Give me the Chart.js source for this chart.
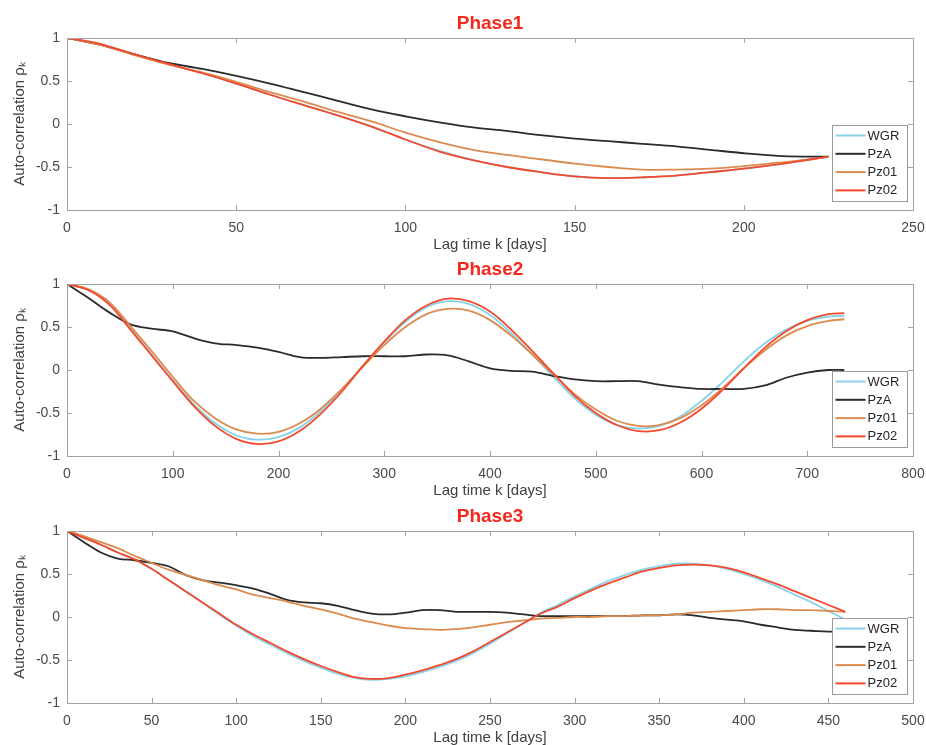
<!DOCTYPE html>
<html>
<head>
<meta charset="utf-8">
<script src="https://cdn.jsdelivr.net/npm/chart.js"></script>
<style>
  body { margin: 0; background: #fff; width: 926px; height: 745px; overflow: hidden; position: relative; }
  canvas { position: absolute; left: 0; }
</style>
</head>
<body>
<canvas id="phase1" width="926" height="256" style="top:0px"></canvas>
<canvas id="phase2" width="926" height="256" style="top:246px"></canvas>
<canvas id="phase3" width="926" height="256" style="top:493px"></canvas>
<script>
// series names and colours
const seriesNames = ['WGR', 'PzA', 'Pz01', 'Pz02'];
const seriesColors = ['#86d3ea', '#2b2b2b', '#dc8b4f', '#f4492d'];

// tick values
const yTicks = [-1, -0.5, 0, 0.5, 1];
const xTicks1 = [0, 50, 100, 150, 200, 250];
const xTicks2 = [0, 100, 200, 300, 400, 500, 600, 700, 800];
const xTicks3 = [0, 50, 100, 150, 200, 250, 300, 350, 400, 450, 500];

// Phase1 (lag in days)
const lags1 = [0, 5, 10, 20, 30, 40, 50, 60, 70, 80, 90, 100, 110, 120, 130, 140, 150, 160, 170, 180, 190, 200, 210, 220, 225];
const wgr1  = [1, 0.97, 0.93, 0.81, 0.70, 0.59, 0.47, 0.34, 0.22, 0.10, -0.03, -0.18, -0.31, -0.42, -0.50, -0.56, -0.61, -0.63, -0.62, -0.60, -0.56, -0.52, -0.47, -0.41, -0.38];
const pza1  = [1, 0.96, 0.92, 0.81, 0.71, 0.64, 0.56, 0.47, 0.37, 0.27, 0.17, 0.09, 0.02, -0.04, -0.08, -0.13, -0.17, -0.20, -0.23, -0.26, -0.30, -0.34, -0.37, -0.38, -0.38];
const pz011 = [1, 0.96, 0.92, 0.80, 0.69, 0.60, 0.49, 0.37, 0.26, 0.14, 0.03, -0.10, -0.21, -0.30, -0.36, -0.41, -0.46, -0.50, -0.53, -0.53, -0.52, -0.49, -0.45, -0.41, -0.38];
const pz021 = [1, 0.97, 0.93, 0.81, 0.70, 0.59, 0.47, 0.34, 0.22, 0.10, -0.03, -0.18, -0.32, -0.42, -0.50, -0.56, -0.61, -0.63, -0.62, -0.60, -0.56, -0.52, -0.47, -0.41, -0.38];

// Phase2
const lags2 = [0, 20, 40, 60, 80, 100, 120, 140, 160, 180, 200, 220, 240, 260, 280, 300, 320, 340, 360, 380, 400, 420, 440, 460, 480, 500, 520, 540, 560, 580, 600, 620, 640, 660, 680, 700, 720, 735];
const wgr2  = [1, 0.93, 0.77, 0.48, 0.18, -0.12, -0.40, -0.62, -0.76, -0.81, -0.78, -0.67, -0.48, -0.23, 0.05, 0.32, 0.56, 0.73, 0.80, 0.77, 0.64, 0.43, 0.18, -0.08, -0.33, -0.52, -0.64, -0.68, -0.65, -0.54, -0.36, -0.14, 0.10, 0.31, 0.47, 0.57, 0.62, 0.63];
const pza2  = [1, 0.84, 0.67, 0.53, 0.48, 0.45, 0.37, 0.31, 0.29, 0.26, 0.21, 0.15, 0.14, 0.15, 0.16, 0.16, 0.16, 0.18, 0.17, 0.10, 0.02, -0.01, -0.02, -0.07, -0.11, -0.13, -0.13, -0.13, -0.17, -0.20, -0.22, -0.22, -0.22, -0.18, -0.09, -0.03, 0.00, 0.00];
const pz012 = [1, 0.94, 0.79, 0.51, 0.22, -0.08, -0.36, -0.56, -0.69, -0.74, -0.72, -0.62, -0.45, -0.22, 0.04, 0.29, 0.50, 0.65, 0.71, 0.69, 0.58, 0.40, 0.18, -0.05, -0.28, -0.46, -0.59, -0.65, -0.64, -0.56, -0.41, -0.21, 0.02, 0.23, 0.40, 0.51, 0.57, 0.59];
const pz022 = [1, 0.93, 0.76, 0.47, 0.17, -0.13, -0.42, -0.65, -0.80, -0.86, -0.83, -0.71, -0.51, -0.25, 0.05, 0.33, 0.58, 0.75, 0.83, 0.80, 0.68, 0.47, 0.22, -0.04, -0.30, -0.50, -0.64, -0.71, -0.70, -0.61, -0.45, -0.23, 0.02, 0.26, 0.45, 0.58, 0.65, 0.66];

// Phase3
const lags3 = [0, 10, 20, 30, 40, 50, 60, 70, 80, 90, 100, 110, 120, 130, 140, 150, 160, 170, 180, 190, 200, 210, 220, 230, 240, 250, 260, 270, 280, 290, 300, 310, 320, 330, 340, 350, 360, 370, 380, 390, 400, 410, 420, 430, 440, 450, 460];
const wgr3  = [1, 0.92, 0.84, 0.75, 0.67, 0.56, 0.43, 0.30, 0.17, 0.03, -0.10, -0.22, -0.32, -0.42, -0.51, -0.59, -0.66, -0.71, -0.73, -0.72, -0.69, -0.64, -0.58, -0.51, -0.42, -0.31, -0.19, -0.07, 0.05, 0.14, 0.24, 0.33, 0.42, 0.49, 0.55, 0.59, 0.62, 0.62, 0.60, 0.56, 0.50, 0.43, 0.35, 0.26, 0.17, 0.07, -0.03];
const pza3  = [1, 0.87, 0.75, 0.68, 0.66, 0.63, 0.59, 0.49, 0.43, 0.40, 0.37, 0.33, 0.27, 0.20, 0.17, 0.16, 0.13, 0.08, 0.04, 0.03, 0.05, 0.08, 0.08, 0.06, 0.06, 0.06, 0.05, 0.03, 0.01, 0.01, 0.01, 0.01, 0.01, 0.01, 0.02, 0.02, 0.03, 0.02, -0.01, -0.03, -0.05, -0.09, -0.12, -0.15, -0.16, -0.17, -0.17];
const pz013 = [1, 0.94, 0.87, 0.80, 0.71, 0.63, 0.55, 0.49, 0.43, 0.37, 0.32, 0.26, 0.22, 0.18, 0.13, 0.09, 0.04, -0.02, -0.06, -0.10, -0.13, -0.14, -0.15, -0.14, -0.12, -0.09, -0.06, -0.04, -0.02, -0.01, 0.00, 0.00, 0.01, 0.01, 0.02, 0.02, 0.03, 0.05, 0.06, 0.07, 0.08, 0.09, 0.09, 0.08, 0.08, 0.07, 0.06];
const pz023 = [1, 0.92, 0.84, 0.75, 0.67, 0.56, 0.43, 0.30, 0.17, 0.04, -0.09, -0.20, -0.30, -0.40, -0.49, -0.57, -0.64, -0.70, -0.72, -0.71, -0.67, -0.62, -0.56, -0.49, -0.40, -0.29, -0.18, -0.07, 0.04, 0.12, 0.22, 0.31, 0.39, 0.46, 0.53, 0.57, 0.60, 0.61, 0.60, 0.57, 0.52, 0.45, 0.38, 0.30, 0.22, 0.14, 0.06];

// MATLAB-like box, inward ticks and legend
const framePlugin = {
    id: 'frame',
    afterDatasetsDraw(chart) {
        const { ctx, chartArea: a, scales } = chart;
        const x = scales.x, y = scales.y;
        ctx.save();
        ctx.strokeStyle = '#a3a3a3';
        ctx.lineWidth = 1;
        ctx.beginPath();
        x.ticks.forEach(t => {
            const px = Math.round(x.getPixelForValue(t.value)) + 0.5;
            ctx.moveTo(px, a.bottom); ctx.lineTo(px, a.bottom - 5);
            ctx.moveTo(px, a.top); ctx.lineTo(px, a.top + 5);
        });
        y.ticks.forEach(t => {
            const py = Math.round(y.getPixelForValue(t.value)) + 0.5;
            ctx.moveTo(a.left, py); ctx.lineTo(a.left + 5, py);
            ctx.moveTo(a.right, py); ctx.lineTo(a.right - 5, py);
        });
        ctx.stroke();
        ctx.strokeRect(Math.round(a.left) + 0.5, Math.round(a.top) + 0.5, Math.round(a.width), Math.round(a.height));

        // legend box
        const bw = 75, bh = 76;
        const bx = Math.round(a.right - 6 - bw) + 0.5;
        const by = Math.round(y.getPixelForValue(0)) + 1.5;
        ctx.fillStyle = '#ffffff';
        ctx.fillRect(bx, by, bw, bh);
        ctx.strokeStyle = '#9a9a9a';
        ctx.strokeRect(bx, by, bw, bh);
        ctx.font = '13px "Liberation Sans", Arial, sans-serif';
        ctx.textBaseline = 'middle';
        ctx.textAlign = 'left';
        chart.data.datasets.forEach((ds, i) => {
            const cy = by + 10 + i * 18.3;
            ctx.strokeStyle = ds.borderColor;
            ctx.lineWidth = 2;
            ctx.beginPath();
            ctx.moveTo(bx + 3, cy); ctx.lineTo(bx + 33, cy);
            ctx.stroke();
            ctx.fillStyle = '#262626';
            ctx.fillText(ds.label, bx + 35, cy + 0.5);
        });
        ctx.restore();
    }
};

function makePanel(id, title, lags, series, xTicks) {
    const datasets = series.map((vals, i) => ({
        label: seriesNames[i],
        data: lags.map((k, j) => ({ x: k, y: vals[j] })),
        borderColor: seriesColors[i],
        borderWidth: 1.8,
        pointRadius: 0,
        tension: 0.35,
        fill: false,
        order: 3 - i
    }));
    return new Chart(document.getElementById(id), {
        type: 'line',
        data: { datasets: datasets },
        plugins: [framePlugin],
        options: {
            responsive: false,
            animation: false,
            layout: { padding: { left: 0, right: 13, top: 0, bottom: 0 } },
            plugins: {
                legend: { display: false },
                tooltip: { enabled: false },
                title: {
                    display: true,
                    text: title,
                    color: '#f5281e',
                    fullSize: false,
                    font: { family: '"Liberation Sans", Arial, sans-serif', size: 19, weight: 'bold', lineHeight: 1 },
                    padding: { top: 14, bottom: 5 }
                }
            },
            scales: {
                x: {
                    type: 'linear',
                    min: xTicks[0],
                    max: xTicks[xTicks.length - 1],
                    afterBuildTicks: s => { s.ticks = xTicks.map(v => ({ value: v })); },
                    afterFit: s => { s.height = 46; s.paddingLeft = 0; s.paddingRight = 0; },
                    grid: { display: false, drawTicks: false },
                    border: { display: false },
                    ticks: {
                        padding: 10,
                        color: '#4a4a4a',
                        font: { family: '"Liberation Sans", Arial, sans-serif', size: 14 },
                        callback: v => String(v),
                        maxRotation: 0
                    },
                    title: {
                        display: true,
                        text: 'Lag time k [days]',
                        color: '#404040',
                        font: { family: '"Liberation Sans", Arial, sans-serif', size: 15 },
                        padding: { top: 0, bottom: 2 }
                    }
                },
                y: {
                    min: -1,
                    max: 1,
                    afterBuildTicks: s => { s.ticks = yTicks.map(v => ({ value: v })); },
                    afterFit: s => { s.width = 67; s.paddingTop = 0; s.paddingBottom = 0; },
                    grid: { display: false, drawTicks: false },
                    border: { display: false },
                    ticks: {
                        padding: 7,
                        color: '#4a4a4a',
                        font: { family: '"Liberation Sans", Arial, sans-serif', size: 14 },
                        callback: v => String(v)
                    },
                    title: {
                        display: true,
                        text: 'Auto-correlation \u03C1\u2096',
                        color: '#404040',
                        font: { family: '"Liberation Sans", Arial, sans-serif', size: 15 },
                        padding: { top: 11, bottom: 0 }
                    }
                }
            }
        }
    });
}

makePanel('phase1', 'Phase1', lags1, [wgr1, pza1, pz011, pz021], xTicks1);
makePanel('phase2', 'Phase2', lags2, [wgr2, pza2, pz012, pz022], xTicks2);
makePanel('phase3', 'Phase3', lags3, [wgr3, pza3, pz013, pz023], xTicks3);
</script>
</body>
</html>
